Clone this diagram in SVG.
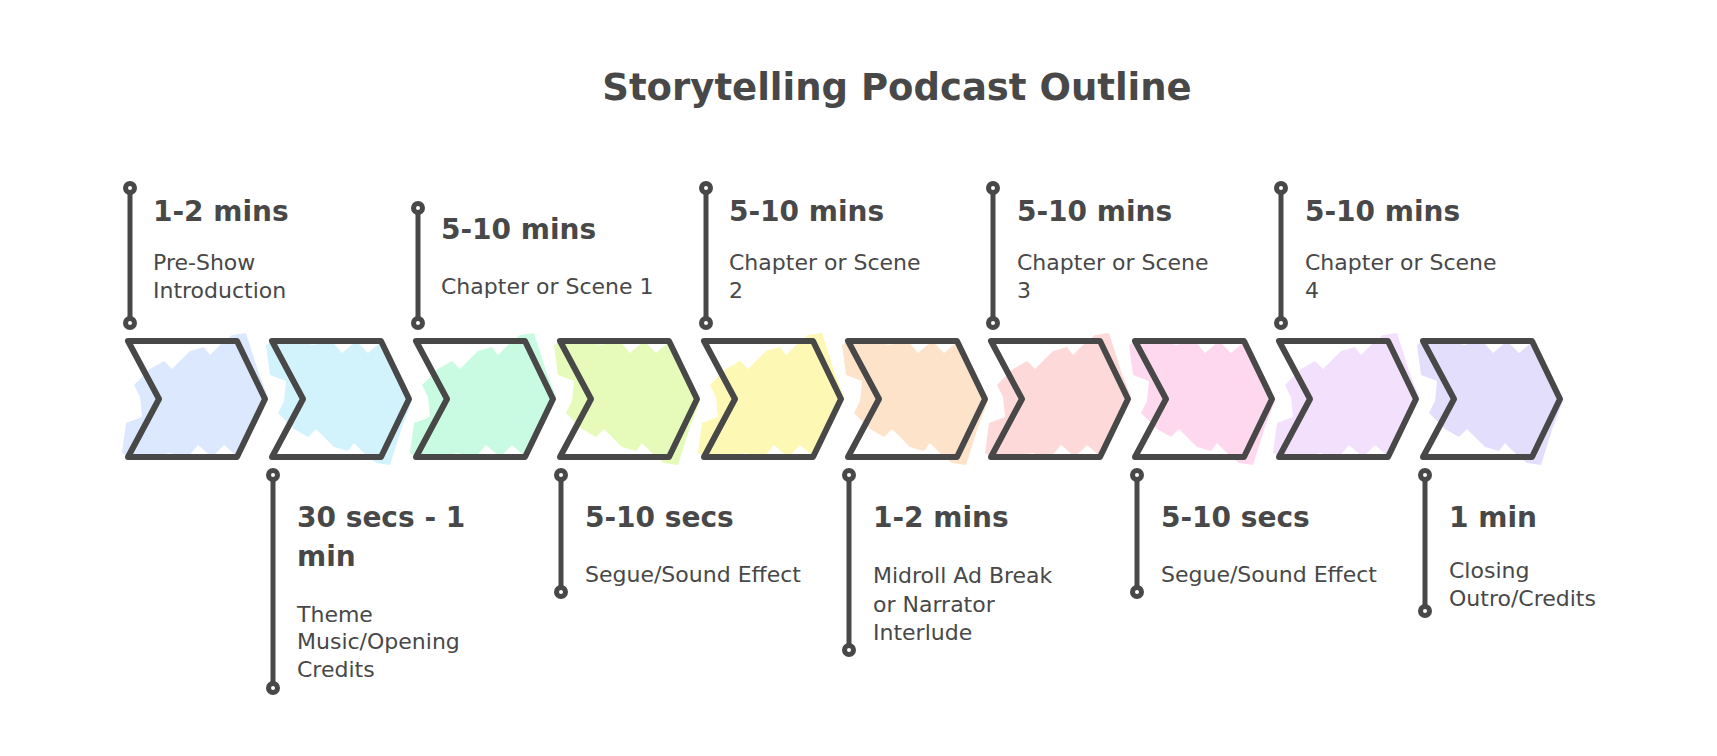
<svg xmlns="http://www.w3.org/2000/svg" xmlns:xlink="http://www.w3.org/1999/xlink" width="1717" height="756" viewBox="0 0 1717 756">
  <style>
    .title { font-family: "DejaVu Sans", "Liberation Sans", sans-serif; font-weight: bold; font-size: 37px; fill: #484848; }
    .h { font-family: "DejaVu Sans", "Liberation Sans", sans-serif; font-weight: bold; font-size: 28px; fill: #484848; }
    .b { font-family: "DejaVu Sans", "Liberation Sans", sans-serif; font-size: 22px; fill: #484848; }
    .chev { fill: none; stroke: #484848; stroke-width: 6; stroke-linejoin: round; stroke-linecap: round; }
    .stem { stroke: #484848; stroke-width: 5; stroke-linecap: round; fill: none; }
    .dot { fill: #ffffff; stroke: #484848; stroke-width: 5; }
  </style>
  <defs>
    <path id="blob" d="M -6,112 L -2,82 L 14,76 L 12,56 L 6,44 L 22,28 L 36,20 L 44,28 L 62,10 L 76,6 L 82,14 L 92,4 L 104,-6 L 118,-8 L 130,30 L 140,56 L 132,70 L 124,80 L 116,96 L 110,116 L 96,104 L 84,116 L 70,104 L 58,118 L 42,112 L 20,116 L 4,118 Z"/>
    <path id="chev" d="M 0,0 L 109,0 L 137,58 L 109,116 L 0,116 L 31,58 Z"/>
  </defs>
  <rect width="1717" height="756" fill="#ffffff"/>
  <text class="title" x="897" y="100" text-anchor="middle">Storytelling Podcast Outline</text>

  <g id="connectors"></g>

  <g id="step1">
    <use xlink:href="#blob" transform="translate(128,341)" fill="#dce8fd"/>
    <use xlink:href="#chev" transform="translate(128,341)" class="chev"/>
    <line class="stem" x1="130" y1="188" x2="130" y2="323"/>
    <circle class="dot" cx="130" cy="188" r="4.5"/>
    <circle class="dot" cx="130" cy="323" r="4.5"/>
    <text class="h" x="153" y="221">1-2 mins</text>
    <text class="b" x="153" y="270">Pre-Show</text>
    <text class="b" x="153" y="298">Introduction</text>
  </g>

  <g id="step2">
    <use xlink:href="#blob" transform="translate(272,457) scale(1,-1)" fill="#d2f3fc"/>
    <use xlink:href="#chev" transform="translate(272,341)" class="chev"/>
    <line class="stem" x1="273" y1="475" x2="273" y2="688"/>
    <circle class="dot" cx="273" cy="475" r="4.5"/>
    <circle class="dot" cx="273" cy="688" r="4.5"/>
    <text class="h" x="297" y="527">30 secs - 1</text>
    <text class="h" x="297" y="566">min</text>
    <text class="b" x="297" y="622">Theme</text>
    <text class="b" x="297" y="649">Music/Opening</text>
    <text class="b" x="297" y="677">Credits</text>
  </g>

  <g id="step3">
    <use xlink:href="#blob" transform="translate(416,341)" fill="#c9fbe2"/>
    <use xlink:href="#chev" transform="translate(416,341)" class="chev"/>
    <line class="stem" x1="418" y1="208" x2="418" y2="323"/>
    <circle class="dot" cx="418" cy="208" r="4.5"/>
    <circle class="dot" cx="418" cy="323" r="4.5"/>
    <text class="h" x="441" y="239">5-10 mins</text>
    <text class="b" x="441" y="294">Chapter or Scene 1</text>
  </g>

  <g id="step4">
    <use xlink:href="#blob" transform="translate(560,457) scale(1,-1)" fill="#e6fbb9"/>
    <use xlink:href="#chev" transform="translate(560,341)" class="chev"/>
    <line class="stem" x1="561" y1="475" x2="561" y2="592"/>
    <circle class="dot" cx="561" cy="475" r="4.5"/>
    <circle class="dot" cx="561" cy="592" r="4.5"/>
    <text class="h" x="585" y="527">5-10 secs</text>
    <text class="b" x="585" y="582">Segue/Sound Effect</text>
  </g>

  <g id="step5">
    <use xlink:href="#blob" transform="translate(704,341)" fill="#fdf8b3"/>
    <use xlink:href="#chev" transform="translate(704,341)" class="chev"/>
    <line class="stem" x1="706" y1="188" x2="706" y2="323"/>
    <circle class="dot" cx="706" cy="188" r="4.5"/>
    <circle class="dot" cx="706" cy="323" r="4.5"/>
    <text class="h" x="729" y="221">5-10 mins</text>
    <text class="b" x="729" y="270">Chapter or Scene</text>
    <text class="b" x="729" y="298">2</text>
  </g>

  <g id="step6">
    <use xlink:href="#blob" transform="translate(848,457) scale(1,-1)" fill="#fde3c9"/>
    <use xlink:href="#chev" transform="translate(848,341)" class="chev"/>
    <line class="stem" x1="849" y1="475" x2="849" y2="650"/>
    <circle class="dot" cx="849" cy="475" r="4.5"/>
    <circle class="dot" cx="849" cy="650" r="4.5"/>
    <text class="h" x="873" y="527">1-2 mins</text>
    <text class="b" x="873" y="583">Midroll Ad Break</text>
    <text class="b" x="873" y="612">or Narrator</text>
    <text class="b" x="873" y="640">Interlude</text>
  </g>

  <g id="step7">
    <use xlink:href="#blob" transform="translate(991,341)" fill="#fddad9"/>
    <use xlink:href="#chev" transform="translate(991,341)" class="chev"/>
    <line class="stem" x1="993" y1="188" x2="993" y2="323"/>
    <circle class="dot" cx="993" cy="188" r="4.5"/>
    <circle class="dot" cx="993" cy="323" r="4.5"/>
    <text class="h" x="1017" y="221">5-10 mins</text>
    <text class="b" x="1017" y="270">Chapter or Scene</text>
    <text class="b" x="1017" y="298">3</text>
  </g>

  <g id="step8">
    <use xlink:href="#blob" transform="translate(1135,457) scale(1,-1)" fill="#fdd8ef"/>
    <use xlink:href="#chev" transform="translate(1135,341)" class="chev"/>
    <line class="stem" x1="1137" y1="475" x2="1137" y2="592"/>
    <circle class="dot" cx="1137" cy="475" r="4.5"/>
    <circle class="dot" cx="1137" cy="592" r="4.5"/>
    <text class="h" x="1161" y="527">5-10 secs</text>
    <text class="b" x="1161" y="582">Segue/Sound Effect</text>
  </g>

  <g id="step9">
    <use xlink:href="#blob" transform="translate(1279,341)" fill="#f3e0fd"/>
    <use xlink:href="#chev" transform="translate(1279,341)" class="chev"/>
    <line class="stem" x1="1281" y1="188" x2="1281" y2="323"/>
    <circle class="dot" cx="1281" cy="188" r="4.5"/>
    <circle class="dot" cx="1281" cy="323" r="4.5"/>
    <text class="h" x="1305" y="221">5-10 mins</text>
    <text class="b" x="1305" y="270">Chapter or Scene</text>
    <text class="b" x="1305" y="298">4</text>
  </g>

  <g id="step10">
    <use xlink:href="#blob" transform="translate(1423,457) scale(1,-1)" fill="#e4defd"/>
    <use xlink:href="#chev" transform="translate(1423,341)" class="chev"/>
    <line class="stem" x1="1425" y1="475" x2="1425" y2="611"/>
    <circle class="dot" cx="1425" cy="475" r="4.5"/>
    <circle class="dot" cx="1425" cy="611" r="4.5"/>
    <text class="h" x="1449" y="527">1 min</text>
    <text class="b" x="1449" y="578">Closing</text>
    <text class="b" x="1449" y="606">Outro/Credits</text>
  </g>
</svg>
